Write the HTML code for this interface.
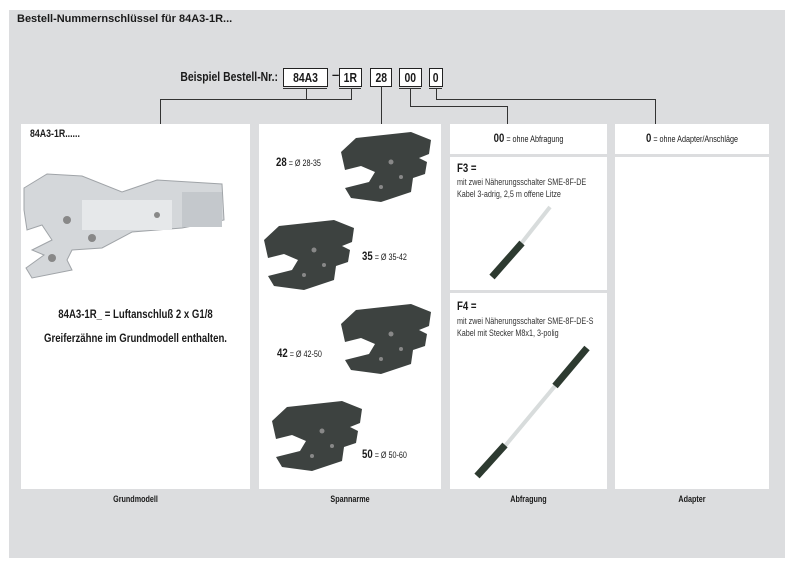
<!DOCTYPE html>
<html><head><meta charset="utf-8"><style>
body{margin:0;width:794px;height:567px;background:#fff;position:relative;font-family:"Liberation Sans",sans-serif;color:#1a1a1a;overflow:hidden}
.a{position:absolute}
.p{position:absolute;background:#fff}
.b{font-weight:bold}
.t{font-size:9px;white-space:nowrap}
.n{transform:scaleX(.8);transform-origin:left center}
.c{transform:scaleX(.8);transform-origin:center center}
.box{position:absolute;border:1px solid #222;background:#fff;font-weight:bold;font-size:13px;text-align:center;line-height:17px;height:17px}
.box span{display:inline-block;transform:scaleX(.8)}
.ln{position:absolute;background:#333}
</style></head><body>
<div class="a" style="left:9px;top:10px;width:776px;height:548px;background:#dcdddf"></div>
<div class="a b" style="left:17px;top:13px;font-size:11px">Bestell-Nummernschlüssel für 84A3-1R...</div>
<div class="a b" style="left:78px;top:69px;width:200px;text-align:right;font-size:13px;white-space:nowrap;transform:scaleX(.8);transform-origin:right center">Beispiel Bestell-Nr.:</div>
<div class="box" style="left:283px;top:68px;width:43px"><span>84A3</span></div>
<div class="a b" style="left:332px;top:67px;font-size:13px">–</div>
<div class="box" style="left:339px;top:68px;width:21px"><span>1R</span></div>
<div class="box" style="left:370px;top:68px;width:20px"><span>28</span></div>
<div class="box" style="left:399px;top:68px;width:21px"><span>00</span></div>
<div class="box" style="left:429px;top:68px;width:12px"><span>0</span></div>
<div class="ln" style="left:283px;top:88px;width:44px;height:1px"></div>
<div class="ln" style="left:339px;top:88px;width:22px;height:1px"></div>
<div class="ln" style="left:399px;top:88px;width:22px;height:1px"></div>
<div class="ln" style="left:429px;top:88px;width:13px;height:1px"></div>
<div class="ln" style="left:306px;top:88px;width:1px;height:11px"></div>
<div class="ln" style="left:351px;top:88px;width:1px;height:11px"></div>
<div class="ln" style="left:160px;top:99px;width:192px;height:1px"></div>
<div class="ln" style="left:160px;top:99px;width:1px;height:25px"></div>
<div class="ln" style="left:381px;top:86px;width:1px;height:38px"></div>
<div class="ln" style="left:410px;top:88px;width:1px;height:18px"></div>
<div class="ln" style="left:410px;top:106px;width:97px;height:1px"></div>
<div class="ln" style="left:507px;top:106px;width:1px;height:18px"></div>
<div class="ln" style="left:436px;top:88px;width:1px;height:11px"></div>
<div class="ln" style="left:436px;top:99px;width:220px;height:1px"></div>
<div class="ln" style="left:655px;top:99px;width:1px;height:25px"></div>
<div class="p" style="left:21px;top:124px;width:229px;height:365px"></div>
<div class="p" style="left:259px;top:124px;width:182px;height:365px"></div>
<div class="p" style="left:450px;top:124px;width:157px;height:30px"></div>
<div class="p" style="left:450px;top:157px;width:157px;height:133px"></div>
<div class="p" style="left:450px;top:293px;width:157px;height:196px"></div>
<div class="p" style="left:615px;top:124px;width:154px;height:30px"></div>
<div class="p" style="left:615px;top:157px;width:154px;height:332px"></div>
<div class="a b n" style="left:30px;top:128px;font-size:11px">84A3-1R......</div>
<svg class="a" style="left:22px;top:170px" width="205" height="115">
<path d="M2,18 L25,4 L60,6 L100,22 L135,10 L200,14 L202,50 L160,58 L110,62 L80,78 L50,80 L45,90 L50,100 L10,108 L4,98 L22,85 L10,80 L30,70 L20,55 L5,60 L2,40 Z" fill="#d4d7da" stroke="#a0a4a8"/>
<rect x="160" y="22" width="40" height="35" fill="#c4c8cc"/>
<rect x="60" y="30" width="90" height="30" fill="#e6e8ea"/>
<circle cx="45" cy="50" r="4" fill="#888"/><circle cx="70" cy="68" r="4" fill="#888"/><circle cx="135" cy="45" r="3" fill="#888"/><circle cx="30" cy="88" r="4" fill="#888"/>
</svg>
<div class="a b c" style="left:21px;top:307px;width:229px;text-align:center;font-size:12px;white-space:nowrap">84A3-1R_ = Luftanschluß 2 x G1/8</div>
<div class="a b c" style="left:21px;top:331px;width:229px;text-align:center;font-size:12px;white-space:nowrap">Greiferzähne im Grundmodell enthalten.</div>
<svg class="a" style="left:259px;top:124px" width="182" height="365">
<defs><g id="j"><path d="M0,20 L15,6 L70,0 L90,8 L88,22 L78,26 L86,30 L84,42 L72,46 L70,60 L40,70 L10,66 L4,56 L28,50 L34,40 L20,34 L4,38 Z" fill="#3d4240"/><circle cx="50" cy="30" r="2.5" fill="#888"/><circle cx="60" cy="45" r="2" fill="#888"/><circle cx="40" cy="55" r="2" fill="#888"/></g></defs>
<use href="#j" transform="translate(82,8)"/>
<use href="#j" transform="translate(5,96)"/>
<use href="#j" transform="translate(82,180)"/>
<use href="#j" transform="translate(13,277)"/>
</svg>
<div class="a t n" style="left:276px;top:155px"><b style="font-size:12px">28</b> = Ø 28-35</div>
<div class="a t n" style="left:362px;top:249px"><b style="font-size:12px">35</b> = Ø 35-42</div>
<div class="a t n" style="left:277px;top:346px"><b style="font-size:12px">42</b> = Ø 42-50</div>
<div class="a t n" style="left:362px;top:447px"><b style="font-size:12px">50</b> = Ø 50-60</div>
<div class="a t c" style="left:450px;top:131px;width:157px;text-align:center"><b style="font-size:12px">00</b> = ohne Abfragung</div>
<div class="a b n" style="left:457px;top:161px;font-size:12px">F3 =</div>
<div class="a t n" style="left:457px;top:176px;line-height:12px;color:#333">mit zwei Näherungsschalter SME-8F-DE<br>Kabel 3-adrig, 2,5 m offene Litze</div>
<svg class="a" style="left:480px;top:205px" width="80" height="80"><line x1="70" y1="2" x2="40" y2="40" stroke="#d8dcdc" stroke-width="4"/><line x1="42" y1="38" x2="12" y2="72" stroke="#2d3a30" stroke-width="7"/></svg>
<div class="a b n" style="left:457px;top:299px;font-size:12px">F4 =</div>
<div class="a t n" style="left:457px;top:315px;line-height:12px;color:#333">mit zwei Näherungsschalter SME-8F-DE-S<br>Kabel mit Stecker M8x1, 3-polig</div>
<svg class="a" style="left:465px;top:340px" width="130" height="140"><line x1="120" y1="10" x2="20" y2="130" stroke="#d8dcdc" stroke-width="4"/><line x1="122" y1="8" x2="90" y2="46" stroke="#2d3a30" stroke-width="7"/><line x1="40" y1="105" x2="12" y2="136" stroke="#2d3a30" stroke-width="7"/></svg>
<div class="a t c" style="left:615px;top:131px;width:154px;text-align:center"><b style="font-size:12px">0</b> = ohne Adapter/Anschläge</div>
<div class="a b t c" style="left:21px;top:494px;width:229px;text-align:center">Grundmodell</div>
<div class="a b t c" style="left:259px;top:494px;width:182px;text-align:center">Spannarme</div>
<div class="a b t c" style="left:450px;top:494px;width:157px;text-align:center">Abfragung</div>
<div class="a b t c" style="left:615px;top:494px;width:154px;text-align:center">Adapter</div>
</body></html>
